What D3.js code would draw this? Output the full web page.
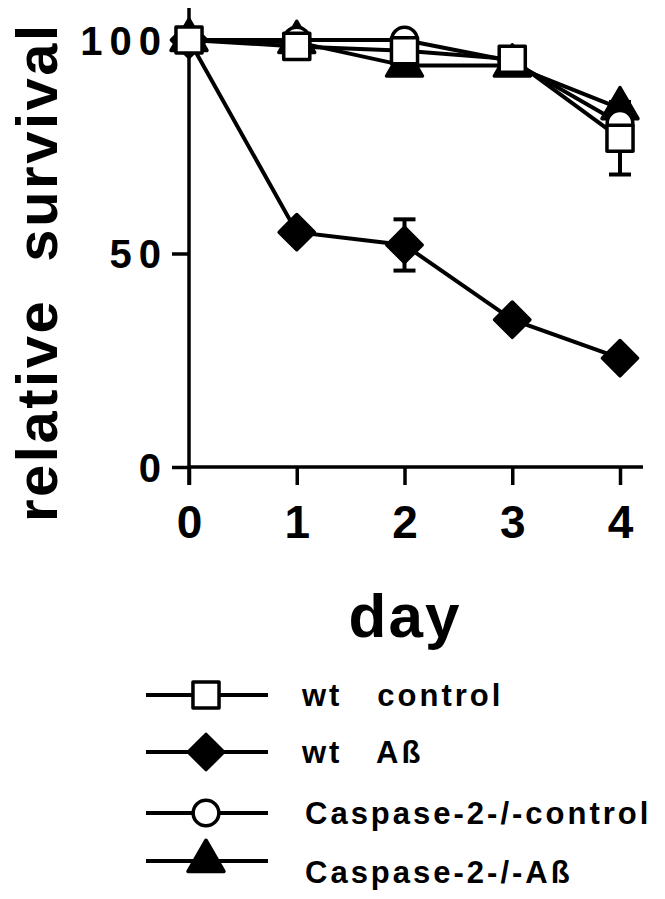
<!DOCTYPE html>
<html>
<head>
<meta charset="utf-8">
<script src="https://cdn.jsdelivr.net/npm/d3@7"></script>
<style>
  body { margin: 0; background: #fff; }
  svg text { font-family: "Liberation Sans", Arial, sans-serif; font-weight: bold; fill: #000; }
</style>
</head>
<body>
<svg width="665" height="899"></svg>
<script>
// data
var days = [0, 1, 2, 3, 4];
var wtControl = [100, 98.5, 97.5, 95.5, 77];
var wtAbeta = [100, 55, 52, 34.5, 25.5];
var casp2Control = [100, 100, 100, 95, 80.5];
var casp2Abeta = [100, 99.5, 94, 94, 84];
var wtControlErr = [0, 0, 0, 0, 8.5];
var wtAbetaErr = [0, 0, 6, 0, 0];
var yTicks = [0, 50, 100];
var seriesNames = ["wt   control", "wt   A\u00DF", "Caspase-2-/-control", "Caspase-2-/-A\u00DF"];

var svg = d3.select("svg"),
    width = +svg.attr("width"),
    height = +svg.attr("height");

var x = d3.scaleLinear().domain([0, 4]).range([189, 620]);
var y = d3.scaleLinear().domain([0, 100]).range([467, 40]);

// axes
var xAxis = svg.append("g").attr("transform", "translate(0," + y(0) + ")")
    .call(d3.axisBottom(x).tickValues(days).tickSize(18).tickPadding(20).tickFormat(d3.format("d")));
xAxis.select(".domain").attr("d", "M" + x(0) + ",0H643");

var yAxis = svg.append("g").attr("transform", "translate(" + x(0) + ",0)")
    .call(d3.axisLeft(y).tickValues(yTicks).tickSize(17).tickPadding(4).tickFormat(d3.format("d")));
yAxis.select(".domain").attr("d", "M0,8V485");

svg.selectAll(".domain, .tick line").attr("stroke", "#000").attr("stroke-width", 3.5);
xAxis.selectAll("text").style("font-size", "46px").attr("dy", "0.71em");
yAxis.selectAll("text").style("font-size", "40px").style("letter-spacing", "7px").attr("dy", "0.36em");

// axis titles
svg.append("text")
    .attr("transform", "translate(57,522) rotate(-90)")
    .style("font-size", "58px")
    .style("letter-spacing", "2.5px")
    .style("white-space", "pre")
    .text("relative  survival");

svg.append("text")
    .attr("x", 405).attr("y", 637)
    .attr("text-anchor", "middle")
    .style("font-size", "62px")
    .style("letter-spacing", "2px")
    .text("day");

// markers
var shapes = {
  square: d3.symbol().type(d3.symbolSquare).size(680),
  diamond: d3.symbol().type(d3.symbolSquare).size(620),
  circle: d3.symbol().type(d3.symbolCircle).size(520),
  triangle: d3.symbol().type(d3.symbolTriangle).size(560)
};

var series = [
  {name: seriesNames[0], values: wtControl, err: wtControlErr, shape: "square", fill: "#fff"},
  {name: seriesNames[1], values: wtAbeta, err: wtAbetaErr, shape: "diamond", fill: "#000"},
  {name: seriesNames[2], values: casp2Control, err: null, shape: "circle", fill: "#fff"},
  {name: seriesNames[3], values: casp2Abeta, err: null, shape: "triangle", fill: "#000"}
];

function marker(sel, s) {
  sel.attr("d", shapes[s.shape]())
     .attr("fill", s.fill)
     .attr("stroke", "#000")
     .attr("stroke-width", 3.5)
     .attr("stroke-linejoin", "round");
}

var line = d3.line()
    .x(function (d, i) { return x(days[i]); })
    .y(function (d) { return y(d); });

// error bars
series.forEach(function (s) {
  if (!s.err) return;
  s.values.forEach(function (v, i) {
    var e = s.err[i];
    if (!e) return;
    var g = svg.append("g").attr("stroke", "#000").attr("stroke-width", 4);
    g.append("line").attr("x1", x(days[i])).attr("x2", x(days[i])).attr("y1", y(v - e)).attr("y2", y(v + e));
    [v - e, v + e].forEach(function (c) {
      g.append("line").attr("x1", x(days[i]) - 11).attr("x2", x(days[i]) + 11).attr("y1", y(c)).attr("y2", y(c));
    });
  });
});

// lines
series.forEach(function (s) {
  svg.append("path")
      .datum(s.values)
      .attr("d", line)
      .attr("fill", "none")
      .attr("stroke", "#000")
      .attr("stroke-width", 4);
});

// points: triangles at the bottom, squares on top
[3, 2, 1, 0].forEach(function (k) {
  var s = series[k];
  svg.selectAll(".pt" + k)
      .data(s.values)
      .enter().append("path")
      .attr("transform", function (d, i) {
        return "translate(" + x(days[i]) + "," + y(d) + ")" + (s.shape == "diamond" ? " rotate(45)" : "");
      })
      .call(marker, s);
});

// legend
var legendY = [695, 752, 813, 861];
var legend = svg.selectAll(".legend")
    .data(series)
    .enter().append("g")
    .attr("transform", function (d, i) { return "translate(0," + legendY[i] + ")"; });

legend.append("line")
    .attr("x1", 146).attr("x2", 268)
    .attr("stroke", "#000").attr("stroke-width", 4);

legend.append("path")
    .attr("transform", function (d) { return "translate(206,0)" + (d.shape == "diamond" ? " rotate(45)" : ""); })
    .each(function (d) { d3.select(this).call(marker, d); });

legend.append("text")
    .attr("x", function (d, i) { return i < 2 ? 302 : 305; })
    .attr("y", function (d, i) { return i == 3 ? 22 : 11; })
    .style("font-size", "31px")
    .style("letter-spacing", "3px")
    .style("white-space", "pre")
    .text(function (d) { return d.name; });
</script>
</body>
</html>
